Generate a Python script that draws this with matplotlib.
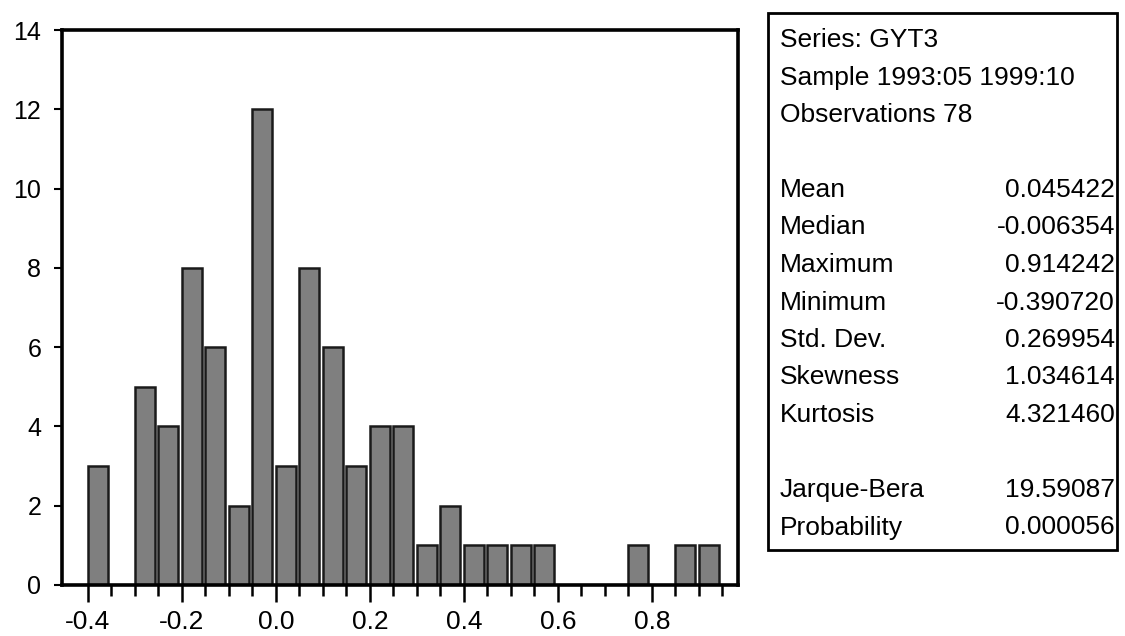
import matplotlib
matplotlib.use("Agg")
import matplotlib.pyplot as plt
from matplotlib.patches import Rectangle
from matplotlib.ticker import FixedLocator, FixedFormatter

plt.rcParams['font.family'] = ['Liberation Sans', 'DejaVu Sans']

# ---- data ----
bin_left = [-0.40, -0.35, -0.30, -0.25, -0.20, -0.15, -0.10, -0.05, 0.00,
            0.05, 0.10, 0.15, 0.20, 0.25, 0.30, 0.35, 0.40, 0.45, 0.50,
            0.55, 0.60, 0.65, 0.70, 0.75, 0.80, 0.85, 0.90]
counts = [3, 0, 5, 4, 8, 6, 2, 12, 3,
          8, 6, 3, 4, 4, 1, 2, 1, 1, 1,
          1, 0, 0, 0, 1, 0, 1, 1]
x_major = [-0.4, -0.2, 0.0, 0.2, 0.4, 0.6, 0.8]
x_labels = ["-0.4", "-0.2", "0.0", "0.2", "0.4", "0.6", "0.8"]
x_minor = [-0.35, -0.30, -0.25, -0.15, -0.10, -0.05, 0.05, 0.10, 0.15,
           0.25, 0.30, 0.35, 0.45, 0.50, 0.55, 0.65, 0.70, 0.75, 0.85,
           0.90, 0.95]
y_major = [0, 2, 4, 6, 8, 10, 12, 14]
y_labels = ["0", "2", "4", "6", "8", "10", "12", "14"]

header_lines = ["Series: GYT3", "Sample 1993:05 1999:10", "Observations 78"]
stat_names = ["Mean", "Median", "Maximum", "Minimum", "Std. Dev.",
              "Skewness", "Kurtosis", None, "Jarque-Bera", "Probability"]
stat_values = ["0.045422", "-0.006354", "0.914242", "-0.390720", "0.269954",
               "1.034614", "4.321460", None, "19.59087", "0.000056"]

# ---- figure ----
W, H = 1125, 636
fig = plt.figure(figsize=(W / 100, H / 100), dpi=100)
ax = fig.add_axes([62 / W, 1 - 585 / H, (738 - 62) / W, (585 - 30) / H])

xs = [b for b, c in zip(bin_left, counts) if c > 0]
hs = [c for c in counts if c > 0]
ax.bar(xs, hs, width=0.042, align='edge', color='#7f7f7f',
       edgecolor='#1a1a1a', linewidth=1.8)

ax.set_xlim(-0.455, 0.983)
ax.set_ylim(0, 14)

ax.xaxis.set_major_locator(FixedLocator(x_major))
ax.xaxis.set_major_formatter(FixedFormatter(x_labels))
ax.xaxis.set_minor_locator(FixedLocator(x_minor))
ax.yaxis.set_major_locator(FixedLocator(y_major))
ax.yaxis.set_major_formatter(FixedFormatter(y_labels))

ax.tick_params(axis='x', which='major', direction='out', length=12, width=1.8,
               labelsize=19, pad=6, color='black')
ax.tick_params(axis='x', which='minor', direction='out', length=8, width=1.8,
               color='black')
ax.tick_params(axis='y', which='major', direction='out', length=6, width=1.5,
               labelsize=18, pad=9, color='black')

for sp in ax.spines.values():
    sp.set_linewidth(2.6)
    sp.set_color('black')

# ---- statistics box ----
bx0, bx1, by0, by1 = 768, 1117, 13, 550
fig.patches.append(Rectangle((bx0 / W, 1 - by1 / H), (bx1 - bx0) / W,
                             (by1 - by0) / H, transform=fig.transFigure,
                             fill=False, edgecolor='black', linewidth=2.0))

tx_left = 780
tx_right = 1115
y0 = 40
dy = 37.5
fs = 19
for k, line in enumerate(header_lines):
    fig.text(tx_left / W, 1 - (y0 + dy * k) / H, line, fontsize=fs,
             ha='left', va='center')
for k, (name, val) in enumerate(zip(stat_names, stat_values)):
    if name is None:
        continue
    yy = 1 - (y0 + dy * (k + 4)) / H
    fig.text(tx_left / W, yy, name, fontsize=fs, ha='left', va='center')
    fig.text(tx_right / W, yy, val, fontsize=fs, ha='right', va='center')

fig.savefig("out.png", dpi=100)
